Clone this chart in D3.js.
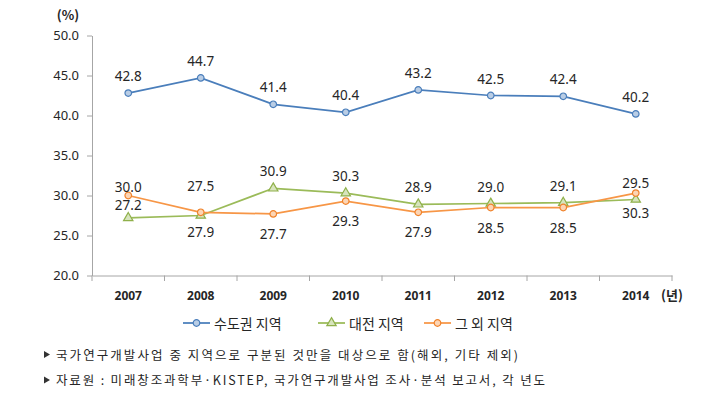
<!DOCTYPE html>
<html><head><meta charset="utf-8">
<script src="https://cdn.jsdelivr.net/npm/d3@7"></script>
<style>
html,body{margin:0;padding:0;background:#fff;}
text{font-family:"Noto Sans CJK KR","Noto Sans",sans-serif;}
</style></head>
<body>
<svg id="c" width="717" height="404"></svg>
<script>
const years = ["2007","2008","2009","2010","2011","2012","2013","2014"];
const capital = [42.8,44.7,41.4,40.4,43.2,42.5,42.4,40.2];
const daejeon = [27.2,27.5,30.9,30.3,28.9,29.0,29.1,29.5];
const others  = [30.0,27.9,27.7,29.3,27.9,28.5,28.5,30.3];
const seriesNames = ["수도권 지역","대전 지역","그 외 지역"];
const yTicks = [20,25,30,35,40,45,50];
const notes = ["국가연구개발사업 중 지역으로 구분된 것만을 대상으로 함(해외, 기타 제외)",
               "자료원 : 미래창조과학부·KISTEP, 국가연구개발사업 조사·분석 보고서, 각 년도"];

const svg = d3.select("#c");
const x = d3.scaleBand().domain(years).range([92,672]);
const y = d3.scaleLinear().domain([20,50]).range([275.5,35.5]);
const axisColor = "#a6a6a6", textColor = "#262626";

// y axis
const ya = svg.append("g").attr("transform","translate(92,0)")
  .call(d3.axisLeft(y).tickValues(yTicks).tickFormat(d3.format(".1f")).tickSize(5).tickSizeOuter(0));
ya.select(".domain").attr("stroke",axisColor);
ya.selectAll(".tick line").attr("stroke",axisColor);
ya.selectAll(".tick text").attr("fill",textColor).attr("font-size",13).attr("x",-13)
  .style("font-family","'Noto Sans',sans-serif");

// x axis
const xa = svg.append("g").attr("transform","translate(0,275.5)")
  .call(d3.axisBottom(x).tickSize(0).tickSizeOuter(0));
xa.select(".domain").attr("stroke",axisColor);
xa.selectAll(".tick text").attr("fill",textColor).attr("font-size",12).attr("font-weight","bold")
  .attr("y",16).style("font-family","'Noto Sans',sans-serif");
const bounds = years.map(d=>x(d)).concat([x.range()[1]]);
svg.append("g").selectAll("line").data(bounds).join("line")
  .attr("x1",d=>d).attr("x2",d=>d).attr("y1",275.5).attr("y2",281).attr("stroke",axisColor);

svg.append("text").attr("x",68).attr("y",20).attr("text-anchor","middle")
  .attr("font-size",13).attr("font-weight","bold").attr("fill",textColor).text("(%)");
svg.append("text").attr("x",672).attr("y",300).attr("text-anchor","middle")
  .attr("font-size",13).attr("font-weight","bold").attr("fill",textColor).text("(년)");

const cx = d => x(d) + x.bandwidth()/2;
const series = [
  {name:seriesNames[0], vals:capital, line:"#4a7ebb", fill:"#b9cde5", stroke:"#4a7ebb", shape:"circle"},
  {name:seriesNames[1], vals:daejeon, line:"#9bbb59", fill:"#d7e4bd", stroke:"#8fb04a", shape:"tri"},
  {name:seriesNames[2], vals:others,  line:"#f79646", fill:"#fcd5b5", stroke:"#f0822a", shape:"circle"}
];
const sym = {circle:d3.symbol(d3.symbolCircle,34), tri:d3.symbol(d3.symbolTriangle,38)};

series.forEach((s,si)=>{
  const g = svg.append("g");
  g.append("path").datum(s.vals)
    .attr("d", d3.line().x((v,i)=>cx(years[i])).y(v=>y(v)))
    .attr("fill","none").attr("stroke",s.line).attr("stroke-width",1.75);
  g.selectAll("path.m").data(s.vals).join("path").attr("class","m")
    .attr("transform",(v,i)=>`translate(${cx(years[i])},${y(v)})`)
    .attr("d",sym[s.shape]()).attr("fill",s.fill).attr("stroke",s.stroke).attr("stroke-width",1.2);
  g.selectAll("text").data(s.vals).join("text")
    .attr("x",(v,i)=>cx(years[i]))
    .attr("y",(v,i)=>{
      if (si===0) return y(v)-12;
      if (si===1) return i===0 ? y(v)-8 : (i===1 ? y(v)-25 : y(v)-12);
      return i===0 ? y(v)-4 : y(v)+25;
    })
    .attr("text-anchor","middle").attr("font-size",13.5).attr("fill",textColor)
    .style("font-family","'Noto Sans',sans-serif")
    .text(v=>d3.format(".1f")(v));
});

// legend
const legX = [183,318,424];
series.forEach((s,i)=>{
  const g = svg.append("g").attr("transform",`translate(${legX[i]},323)`);
  g.append("line").attr("x1",0).attr("x2",27).attr("y1",0).attr("y2",0).attr("stroke",s.line).attr("stroke-width",1.75);
  g.append("path").attr("transform","translate(13.5,0)").attr("d",sym[s.shape]())
    .attr("fill",s.fill).attr("stroke",s.stroke).attr("stroke-width",1.2);
  g.append("text").attr("x",31).attr("y",5.5).attr("font-size",14).attr("fill",textColor).text(s.name);
});

// notes
const noteLen = [462,489];
notes.forEach((t,i)=>{
  const yy = 359.5 + i*25.5;
  svg.append("path").attr("d",`M44,${yy-8.5}L50,${yy-5}L44,${yy-1.5}Z`).attr("fill","#333");
  svg.append("text").attr("x",56).attr("y",yy).attr("font-size",12.5).attr("fill",textColor)
    .attr("textLength",noteLen[i]).attr("lengthAdjust","spacing").text(t);
});
</script>
</body></html>
